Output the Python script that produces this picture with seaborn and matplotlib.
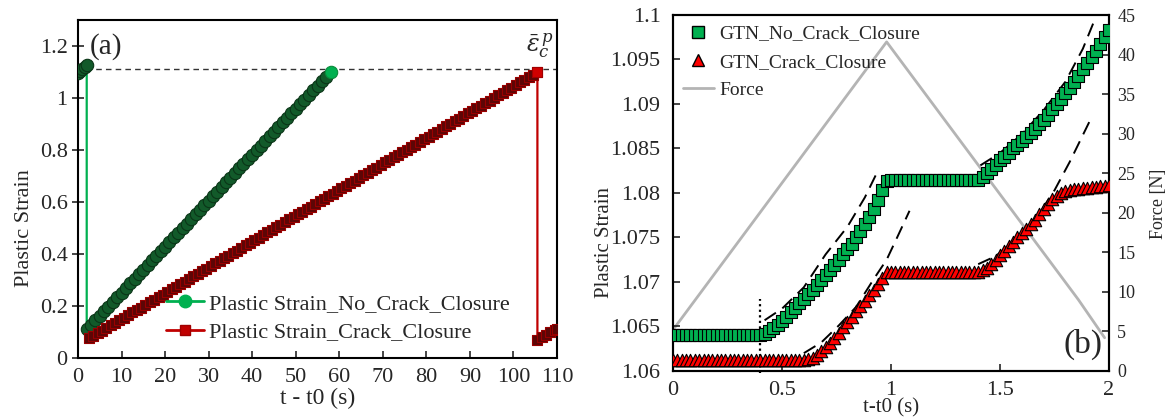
import numpy as np
import matplotlib
matplotlib.use("Agg")
import matplotlib.pyplot as plt
from matplotlib.lines import Line2D
import seaborn as sns

# ---------------- data: panel (a) ----------------
# green series: short initial rise, drop, then linear growth (step 1 s)
a_green_pre_t = [0.0, 0.5, 1.0, 1.5, 2.0]
a_green_pre_y = [1.096, 1.104, 1.112, 1.120, 1.128]
a_green_t = list(np.arange(2, 59, 1.0))
a_green_y = [0.110, 0.128, 0.145, 0.163, 0.181, 0.198, 0.216, 0.234, 0.251, 0.269,
             0.287, 0.304, 0.322, 0.340, 0.358, 0.375, 0.393, 0.411, 0.428, 0.446,
             0.464, 0.481, 0.499, 0.517, 0.534, 0.552, 0.570, 0.587, 0.605, 0.623,
             0.640, 0.658, 0.676, 0.693, 0.711, 0.729, 0.747, 0.764, 0.782, 0.800,
             0.817, 0.835, 0.853, 0.870, 0.888, 0.906, 0.923, 0.941, 0.959, 0.976,
             0.994, 1.012, 1.029, 1.047, 1.065, 1.082, 1.100]
# red series: linear growth, drop at the end, short rise afterwards
a_red_t = list(np.arange(2.5, 106, 1.0))
a_red_y = [0.075, 0.085, 0.095, 0.105, 0.115, 0.125, 0.135, 0.145, 0.155, 0.165,
           0.175, 0.184, 0.194, 0.204, 0.214, 0.224, 0.234, 0.244, 0.254, 0.264,
           0.274, 0.284, 0.294, 0.304, 0.314, 0.324, 0.334, 0.344, 0.354, 0.364,
           0.374, 0.383, 0.393, 0.403, 0.413, 0.423, 0.433, 0.443, 0.453, 0.463,
           0.473, 0.483, 0.493, 0.503, 0.513, 0.523, 0.533, 0.543, 0.553, 0.563,
           0.573, 0.582, 0.592, 0.602, 0.612, 0.622, 0.632, 0.642, 0.652, 0.662,
           0.672, 0.682, 0.692, 0.702, 0.712, 0.722, 0.732, 0.742, 0.752, 0.762,
           0.772, 0.781, 0.791, 0.801, 0.811, 0.821, 0.831, 0.841, 0.851, 0.861,
           0.871, 0.881, 0.891, 0.901, 0.911, 0.921, 0.931, 0.941, 0.951, 0.961,
           0.971, 0.980, 0.990, 1.000, 1.010, 1.020, 1.030, 1.040, 1.050, 1.060,
           1.070, 1.080, 1.090, 1.100]
a_red_post_t = [105.5, 106.5, 107.5, 108.5, 109.5, 110.0]
a_red_post_y = [0.070, 0.080, 0.090, 0.099, 0.108, 0.113]
eps_c = 1.11
a_legend = ["Plastic Strain_No_Crack_Closure", "Plastic Strain_Crack_Closure"]

# ---------------- data: panel (b) ----------------
b_t = list(np.round(np.linspace(0, 2, 101), 2))
b_green = ([1.0640] * 21 +
           [1.0642, 1.0645, 1.0648, 1.0652, 1.0656, 1.0661, 1.0666, 1.0671, 1.0676, 1.0681,
            1.0686, 1.0691, 1.0697, 1.0702, 1.0708, 1.0713, 1.0719, 1.0725, 1.0731, 1.0737,
            1.0743, 1.0750, 1.0757, 1.0765, 1.0773, 1.0782, 1.0792, 1.0803, 1.0813] +
           [1.0815] * 21 +
           [1.0818, 1.0822, 1.0827, 1.0832, 1.0837, 1.0841, 1.0845, 1.0850, 1.0854, 1.0858,
            1.0863, 1.0867, 1.0872, 1.0877, 1.0882, 1.0888, 1.0894, 1.0900, 1.0906, 1.0912,
            1.0918, 1.0925, 1.0932, 1.0939, 1.0946, 1.0953, 1.0960, 1.0967, 1.0975, 1.0983])
b_red = ([1.0612] * 31 +
         [1.0613, 1.0615, 1.0618, 1.0622, 1.0627, 1.0632, 1.0637, 1.0643, 1.0649, 1.0655,
          1.0661, 1.0667, 1.0673, 1.0679, 1.0685, 1.0691, 1.0698, 1.0705, 1.0711] +
         [1.0711] * 21 +
         [1.0713, 1.0716, 1.0720, 1.0725, 1.0730, 1.0735, 1.0740, 1.0745, 1.0750, 1.0755,
          1.0760, 1.0765, 1.0770, 1.0776, 1.0782, 1.0788, 1.0793, 1.0797, 1.0800, 1.0802,
          1.0803, 1.0804, 1.0805, 1.0806, 1.0806, 1.0807, 1.0807, 1.0808, 1.0808, 1.0809])
force_t = [0.0, 0.98, 1.86, 1.98]
force_v = [5.2, 41.6, 9.0, 4.2]
dash_g1_t = [0.42, 0.50, 0.60, 0.70, 0.80, 0.88, 0.93]
dash_g1_y = [1.0657, 1.0670, 1.0694, 1.0731, 1.0762, 1.0795, 1.0820]
dash_g2_t = [1.41, 1.50, 1.60, 1.70, 1.80, 1.88, 1.93]
dash_g2_y = [1.0831, 1.0845, 1.0866, 1.0893, 1.0925, 1.0962, 1.0992]
dash_r1_t = [0.60, 0.68, 0.76, 0.84, 0.92, 0.98, 1.03, 1.085]
dash_r1_y = [1.0620, 1.0632, 1.0651, 1.0672, 1.0703, 1.0725, 1.0751, 1.0780]
dash_r2_t = [1.40, 1.48, 1.55, 1.62, 1.68, 1.75, 1.82, 1.91]
dash_r2_y = [1.0720, 1.0729, 1.0743, 1.0759, 1.0777, 1.0803, 1.0835, 1.0880]
t_mark = 0.40
b_legend = ["GTN_No_Crack_Closure", "GTN_Crack_Closure", "Force"]

# ---------------- style ----------------
sns.set_theme(style="white")
plt.rcParams["font.family"] = ["Liberation Serif", "DejaVu Serif"]
plt.rcParams["mathtext.fontset"] = "dejavuserif"
plt.rcParams["axes.edgecolor"] = "black"
plt.rcParams["axes.linewidth"] = 1.5

GREEN = "#00b050"
RED = "#c00000"

fig = plt.figure(figsize=(11.66, 4.19), dpi=100)
ax1 = fig.add_axes([0.0669, 0.1456, 0.4108, 0.8067])
ax2 = fig.add_axes([0.5772, 0.1146, 0.3739, 0.8496])

# ---------------- panel (a) ----------------
gx = a_green_pre_t + a_green_t
gy = a_green_pre_y + a_green_y
sns.lineplot(x=gx, y=gy, sort=False, estimator=None, ax=ax1, color=GREEN, lw=1.6, zorder=2)
sns.scatterplot(x=gx[:-1], y=gy[:-1], ax=ax1, marker="o", s=80, color="#125a2a",
                edgecolor="#0a3517", linewidth=0.8, zorder=3, legend=False)
sns.scatterplot(x=gx[-1:], y=gy[-1:], ax=ax1, marker="o", s=80, color=GREEN,
                edgecolor="#0a8a3a", linewidth=0.8, zorder=4, legend=False)

rx = a_red_t + a_red_post_t
ry = a_red_y + a_red_post_y
sns.lineplot(x=rx, y=ry, sort=False, estimator=None, ax=ax1, color=RED, lw=1.6, zorder=2)
sns.scatterplot(x=rx, y=ry, ax=ax1, marker="s", s=55, color="#5c0606",
                edgecolor="#9a0000", linewidth=0.8, zorder=3, legend=False)
sns.scatterplot(x=a_red_t[-1:], y=a_red_y[-1:], ax=ax1, marker="s", s=55, color="#d00000",
                edgecolor="#a00000", linewidth=0.8, zorder=4, legend=False)

ax1.plot([1.9, 110], [eps_c, eps_c], color="#333333", lw=1.0, ls=(0, (4, 3)), zorder=1)

ax1.set_xlim(0, 110)
ax1.set_ylim(0, 1.3)
ax1.set_xticks(np.arange(0, 111, 10))
ax1.set_yticks([0, 0.2, 0.4, 0.6, 0.8, 1.0, 1.2])
ax1.set_yticklabels(["0", "0.2", "0.4", "0.6", "0.8", "1", "1.2"])
ax1.tick_params(axis="x", direction="in", length=5, width=1.2, labelsize=16, pad=7, bottom=True)
ax1.tick_params(axis="y", direction="inout", length=8, width=1.2, labelsize=16, left=True)
ax1.set_xlabel("t - t0 (s)", fontsize=17, labelpad=1)
ax1.set_ylabel("Plastic Strain", fontsize=16)
ax1.yaxis.set_label_coords(-0.092, 0.385)
ax1.text(2.6, 1.197, "(a)", fontsize=21, ha="left", va="center")
ax1.text(106.0, 1.20, r"$\bar{\varepsilon}^{\,p}_{c}$", fontsize=17, ha="center", va="center")
for s in ax1.spines.values():
    s.set_visible(True)
    s.set_color("black")

h_a = [Line2D([], [], color=GREEN, lw=2, marker="o", markersize=9, markerfacecolor=GREEN,
              markeredgecolor=GREEN),
       Line2D([], [], color=RED, lw=2, marker="s", markersize=7, markerfacecolor="#c00000",
              markeredgecolor="#a00000")]
ax1.legend(h_a, a_legend, loc="lower left", bbox_to_anchor=(0.152, 0.0), frameon=False,
           fontsize=16, handlelength=1.7, handletextpad=0.2, labelspacing=0.35,
           borderaxespad=0.3)

# ---------------- panel (b) ----------------
ax2b = ax2.twinx()
sns.lineplot(x=force_t, y=force_v, sort=False, estimator=None, ax=ax2b, color="#b4b4b4", lw=2.0)
ax2b.set_ylim(0, 45)
ax2b.set_yticks(np.arange(0, 46, 5))
ax2b.tick_params(axis="y", direction="in", length=5, width=1.2, labelsize=13, right=True, pad=6)
ax2b.set_ylabel("Force [N]", fontsize=13, labelpad=4)
ax2b.yaxis.set_label_coords(1.095, 0.47)
ax2b.grid(False)

ax2.set_zorder(ax2b.get_zorder() + 1)
ax2.patch.set_visible(False)

for tt, yy in [(dash_g1_t, dash_g1_y), (dash_g2_t, dash_g2_y),
               (dash_r1_t, dash_r1_y), (dash_r2_t, dash_r2_y)]:
    sns.lineplot(x=tt, y=yy, sort=False, estimator=None, ax=ax2, color="black", lw=1.4,
                 dashes=False, zorder=2)
for ln in ax2.get_lines():
    ln.set_dashes([7, 4])
ax2.plot([t_mark, t_mark], [1.0598, 1.0681], color="black", lw=1.6, ls=(0, (1, 1.5)), zorder=2,
         clip_on=False)

sns.scatterplot(x=b_t, y=b_green, ax=ax2, marker="s", s=75, color=GREEN, edgecolor="black",
                linewidth=0.8, zorder=3, legend=False)
sns.scatterplot(x=b_t, y=b_red, ax=ax2, marker="^", s=80, color="#ff0000", edgecolor="black",
                linewidth=0.8, zorder=3, legend=False)

ax2.set_xlim(0, 2)
ax2.set_ylim(1.06, 1.1)
ax2.set_xticks([0, 0.5, 1, 1.5, 2])
ax2.set_xticklabels(["0", "0.5", "1", "1.5", "2"])
yt = [1.06, 1.065, 1.07, 1.075, 1.08, 1.085, 1.09, 1.095, 1.1]
ax2.set_yticks(yt)
ax2.set_yticklabels(["1.06", "1.065", "1.07", "1.075", "1.08", "1.085", "1.09", "1.095", "1.1"])
ax2.tick_params(axis="x", direction="in", length=5, width=1.2, labelsize=16, pad=7, bottom=True)
ax2.tick_params(axis="y", direction="in", length=5, width=1.2, labelsize=16, left=True, pad=9)
ax2.set_xlabel("t-t0 (s)", fontsize=15, labelpad=-1)
ax2.set_ylabel("Plastic Strain", fontsize=15)
ax2.yaxis.set_label_coords(-0.135, 0.36)
ax2.text(1.97, 1.0612, "(b)", fontsize=24, ha="right", va="bottom")
for s in list(ax2.spines.values()) + list(ax2b.spines.values()):
    s.set_visible(True)
    s.set_color("black")

h_b = [Line2D([], [], ls="none", marker="s", markersize=9, markerfacecolor=GREEN,
              markeredgecolor="black"),
       Line2D([], [], ls="none", marker="^", markersize=9, markerfacecolor="#ff0000",
              markeredgecolor="black"),
       Line2D([], [], color="#b4b4b4", lw=2)]
ax2.legend(h_b, b_legend, loc="upper left", frameon=False, fontsize=14, handlelength=1.6,
           handletextpad=0.3, labelspacing=0.55, borderaxespad=0.1)

fig.savefig("out.png", dpi=100)
